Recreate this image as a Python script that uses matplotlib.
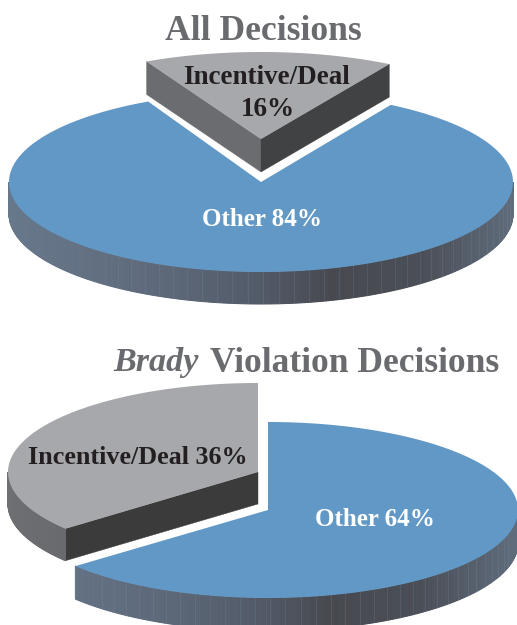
import numpy as np
import matplotlib
matplotlib.use("Agg")
import matplotlib.pyplot as plt
from matplotlib.colors import to_rgb

# shares in percent
all_labels = ["Incentive/Deal", "Other"]
all_values = [16, 84]
brady_labels = ["Incentive/Deal", "Other"]
brady_values = [36, 64]

BLUE = "#6298c6"
GRAY = "#a7a8ac"
TITLE = "#6a6b6f"
DARK = "#231f20"

# gradient of the rim, left to right
blue_rim = [(8, "#68788c"), (150, "#5e6a7b"), (260, "#525a68"), (330, "#47494f"),
            (420, "#4a4e56"), (517, "#606d7d")]
gray_rim = [(8, "#6e6f72"), (70, "#68696c")]


def rim_color(x, stops):
    xs = [s[0] for s in stops]
    cols = np.array([to_rgb(s[1]) for s in stops])
    return [np.interp(x, xs, cols[:, i]) for i in range(3)]


def point(cx, cy, rx, ry, deg):
    # degrees run clockwise from north
    a = np.radians(deg)
    return cx + rx * np.sin(a), cy - ry * np.cos(a)


def draw_slice(ax, cx, cy, rx, ry, depth, start, share, top, stops, faces=(None, None), lines=False):
    end = start + share / 100 * 360
    # cut faces first, the top surface hides the ones facing away
    for deg, col in zip((start, end), faces):
        if col is None:
            continue
        x, y = point(cx, cy, rx, ry, deg)
        ax.fill([cx, x, x, cx], [cy, y, y + depth, cy + depth], color=col, lw=0.3)

    # rim, only the front half can be seen
    lo = max(start, 90)
    hi = min(end, 270)
    if hi > lo:
        steps = np.linspace(lo, hi, int((hi - lo) * 2) + 1)
        x0, y0 = point(cx, cy, rx, ry, steps[:-1])
        x1, y1 = point(cx, cy, rx, ry, steps[1:])
        for a, b, c, d in zip(x0, y0, x1, y1):
            ax.fill([a, c, c, a], [b, d, d + depth, b + depth],
                    color=rim_color((a + c) / 2, stops), lw=0.7, zorder=2)

    # thin facet lines, the left part of the rim has none
    if lines:
        for deg in np.arange(92, 268, 3.5):
            x, y = point(cx, cy, rx, ry, deg)
            if x > 95 and x < 510 and lo < deg < hi:
                ax.plot([x, x], [y, y + depth], color="#7d8ca0", lw=0.4, alpha=0.4, zorder=2.1)

    # top surface
    deg = np.linspace(start, end, 240)
    xs, ys = point(cx, cy, rx, ry, deg)
    ax.fill(np.r_[cx, xs], np.r_[cy, ys], color=top, lw=0, zorder=3)


fig = plt.figure(figsize=(5.17, 6.25), dpi=100)
ax = fig.add_axes([0, 0, 1, 1])
ax.set_xlim(0, 517)
ax.set_ylim(625, 0)
ax.axis("off")

plt.rcParams["font.family"] = ["Liberation Serif", "DejaVu Serif"]

# upper pie
draw_slice(ax, 261, 182, 252, 90, 32, 31, all_values[1], BLUE, blue_rim, lines=True)
draw_slice(ax, 261, 139, 252, 87, 33, -27, all_values[0], GRAY, gray_rim,
           faces=("#6b6c6f", "#414244"))

# lower pie
draw_slice(ax, 268, 510, 250, 88, 33, 0, brady_values[1], BLUE, blue_rim, lines=True)
draw_slice(ax, 258, 472, 250, 89, 32, brady_values[1] / 100 * 360, brady_values[0], GRAY, gray_rim,
           faces=("#3b3b3c", None))

# titles
ax.text(263.5, 31, "All Decisions", color=TITLE, fontsize=25.6, fontweight="bold",
        ha="center", va="center", zorder=5)
ax.text(113, 363, "Brady", color=TITLE, fontsize=24.6, fontweight="bold", style="italic",
        ha="left", va="center", zorder=5)
ax.text(210, 363, "Violation Decisions", color=TITLE, fontsize=25.5, fontweight="bold",
        ha="left", va="center", zorder=5)

# labels
ax.text(266, 78, all_labels[0], color=DARK, fontsize=19.5, fontweight="bold", ha="center", va="center", zorder=5)
ax.text(268, 109, f"{all_values[0]}%", color=DARK, fontsize=19.5, fontweight="bold", ha="center", va="center", zorder=5)
ax.text(262, 220, f"{all_labels[1]} {all_values[1]}%", color="white", fontsize=18, fontweight="bold",
        ha="center", va="center", zorder=5)
ax.text(138, 457, f"{brady_labels[0]} {brady_values[0]}%", color=DARK, fontsize=18.8, fontweight="bold",
        ha="center", va="center", zorder=5)
ax.text(375, 520, f"{brady_labels[1]} {brady_values[1]}%", color="white", fontsize=18, fontweight="bold",
        ha="center", va="center", zorder=5)

fig.savefig("out.png", dpi=100)
